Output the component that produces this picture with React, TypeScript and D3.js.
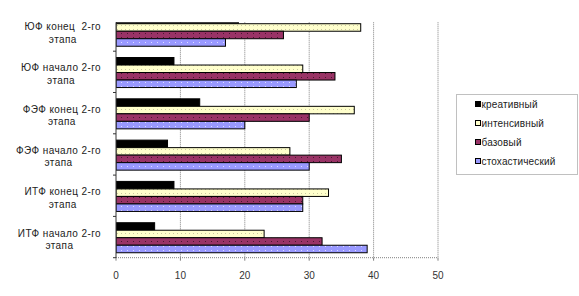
import React from "react";
import * as d3 from "d3";

const categories = [
  "ЮФ конец  2-го|этапа",
  "ЮФ начало 2-го|этапа",
  "ФЭФ конец 2-го|этапа",
  "ФЭФ начало 2-го|этапа",
  "ИТФ конец 2-го|этапа",
  "ИТФ начало 2-го|этапа",
];
const seriesNames = ["креативный", "интенсивный", "базовый", "стохастический"];
const kreativ = [19, 9, 13, 8, 9, 6];
const intens = [38, 29, 37, 27, 33, 23];
const bazov = [26, 34, 30, 35, 29, 32];
const stoch = [17, 28, 20, 30, 29, 39];
const xTicks = [0, 10, 20, 30, 40, 50];

const seriesValues = [kreativ, intens, bazov, stoch];
const fills = ["#000000", "url(#pY)", "url(#pP)", "url(#pB)"];
const legendFills = ["#000000", "#FFFFCC", "#993366", "#9999FF"];

const font = "Liberation Sans, Arial, sans-serif";
const LS = 0.4;

function measure(s: string): number {
  try {
    const ctx = document.createElement("canvas").getContext("2d");
    if (!ctx) return s.length * 5.5;
    ctx.font = "10px 'Liberation Sans'";
    return ctx.measureText(s).width + LS * s.length;
  } catch (e) {
    return s.length * 5.5;
  }
}

export default function App() {
  const W = 579, H = 296;
  const x = d3.scaleLinear().domain([0, 50]).range([116, 438]);
  const yG = d3.scaleBand().domain(categories).range([9.9, 257.7]).padding(0);
  const bw = yG.bandwidth();
  const yS = d3.scaleBand().domain(seriesNames).range([bw * 0.153, bw * 0.88]).padding(0);
  const plotTop = 22.3, plotBottom = 257.7;
  const labelRight = 101;
  return (
    <svg width={W} height={H} style={{ position: "absolute", left: 0, top: 0, background: "#fff" }}>
      <defs>
        <pattern id="pY" width="4" height="4" patternUnits="userSpaceOnUse">
          <rect width="4" height="4" fill="#FFFFCC" />
          <rect x="1" y="1" width="1" height="1" fill="#C8C8A0" />
        </pattern>
        <pattern id="pP" width="6" height="4" patternUnits="userSpaceOnUse">
          <rect width="6" height="4" fill="#993366" />
          <rect x="1" y="1" width="1" height="1" fill="#4a1830" />
        </pattern>
        <pattern id="pB" width="6" height="4" patternUnits="userSpaceOnUse">
          <rect width="6" height="4" fill="#9999FF" />
          <rect x="1" y="2" width="1" height="1" fill="#ddddff" />
        </pattern>
        <clipPath id="plotClip">
          <rect x={x(0)} y={plotTop} width={x(50) - x(0) + 1} height={plotBottom - plotTop} />
        </clipPath>
      </defs>
      {/* gridlines */}
      {xTicks.slice(1).map((t) => (
        <line key={t} x1={x(t)} x2={x(t)} y1={plotTop} y2={plotBottom} stroke="#808080" strokeDasharray="1,1" />
      ))}
      {/* bars */}
      <g clipPath="url(#plotClip)">
        {categories.map((c, ci) =>
          seriesNames.map((s, si) => (
            <rect
              key={c + s}
              x={x(0)}
              y={(yG(c) as number) + (yS(s) as number)}
              width={x(seriesValues[si][ci]) - x(0)}
              height={yS.bandwidth()}
              fill={fills[si]}
              stroke="#000"
              strokeWidth={1}
            />
          ))
        )}
      </g>
      {/* bottom axis */}
      <line x1={x(0)} x2={x(50)} y1={plotBottom} y2={plotBottom} stroke="#808080" strokeDasharray="1,1" />
      {xTicks.map((t) => (
        <g key={t}>
          <line x1={x(t)} x2={x(t)} y1={plotBottom} y2={plotBottom + 3} stroke="#808080" />
          <text x={x(t)} y={plotBottom + 21} textAnchor="middle" fontFamily={font} fontSize={10} fill="#333">
            {t}
          </text>
        </g>
      ))}
      {/* left axis */}
      <line x1={x(0)} x2={x(0)} y1={plotTop} y2={plotBottom} stroke="#333" />
      {categories.map((c) => (
        <line key={"t" + c} x1={x(0) - 3} x2={x(0)} y1={(yG(c) as number) + bw} y2={(yG(c) as number) + bw} stroke="#333" />
      ))}
      {categories.map((c) => {
        const lines = c.split("|");
        const cy = (yG(c) as number) + bw / 2;
        const maxW = Math.max(...lines.map(measure));
        const cx = labelRight - maxW / 2;
        return (
          <text key={"l" + c} textAnchor="middle" fontFamily={font} fontSize={10} fill="#222" letterSpacing={LS}>
            {lines.map((ln, i) => (
              <tspan key={i} x={cx} y={cy - 0.5 + i * 12.5} style={{ whiteSpace: "pre" }}>
                {ln}
              </tspan>
            ))}
          </text>
        );
      })}
      {/* legend */}
      <rect x={456.5} y={94.5} width={121} height={80} fill="#fff" stroke="#808080" strokeDasharray="1,1" />
      {seriesNames.map((s, i) => {
        const ly = 104 + i * 19;
        return (
          <g key={"lg" + s}>
            <rect x={475.5} y={ly - 2.5} width={5} height={5} fill={legendFills[i]} stroke="#000" />
            <text x={481.5} y={ly + 3.5} fontFamily={font} fontSize={10} fill="#222" letterSpacing={0.15}>
              {s}
            </text>
          </g>
        );
      })}
    </svg>
  );
}
